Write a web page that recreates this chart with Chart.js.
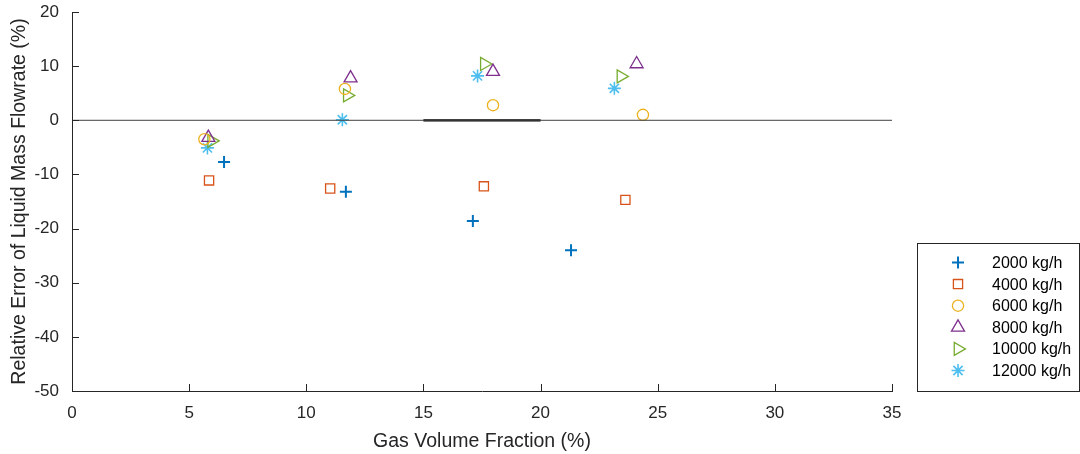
<!DOCTYPE html>
<html>
<head>
<meta charset="utf-8">
<script src="https://cdn.jsdelivr.net/npm/chart.js@4.4.1/dist/chart.umd.min.js"></script>
<style>
  html, body { margin: 0; padding: 0; background: #fff; }
  #wrap { width: 1080px; height: 454px; }
</style>
</head>
<body>
<div id="wrap"><canvas id="c" width="1080" height="454"></canvas></div>
<script>
// series: gas volume fraction (%) vs relative error (%)
const seriesNames = ['2000 kg/h', '4000 kg/h', '6000 kg/h', '8000 kg/h', '10000 kg/h', '12000 kg/h'];
const gvf2000 = [6.49, 11.69, 17.11, 21.30];
const err2000 = [-7.7, -13.2, -18.6, -24.0];
const gvf4000 = [5.85, 11.02, 17.58, 23.62];
const err4000 = [-11.1, -12.6, -12.2, -14.7];
const gvf6000 = [5.65, 11.65, 17.97, 24.37];
const err6000 = [-3.5, 5.8, 2.8, 1.0];
const gvf8000 = [5.82, 11.89, 17.97, 24.10];
const err8000 = [-3.2, 7.8, 9.0, 10.4];
const gvf10000 = [5.96, 11.75, 17.60, 23.43];
const err10000 = [-3.8, 4.6, 10.4, 8.1];
const gvf12000 = [5.78, 11.54, 17.31, 23.15];
const err12000 = [-5.1, 0.1, 8.2, 5.9];

const xTicks = [0, 5, 10, 15, 20, 25, 30, 35];
const yTicks = [-50, -40, -30, -20, -10, 0, 10, 20];
const zeroLineX = [0, 35];
const zeroBandX = [15, 20];

const axisColour = '#262626';
const fontFamily = '"Liberation Sans", Arial, Helvetica, sans-serif';

function pts(xs, ys) {
  return xs.map((x, i) => ({ x: x, y: ys[i] }));
}

function markerSet(label, xs, ys, colour, style, radius, width, rotation) {
  return {
    label: label,
    data: pts(xs, ys),
    pointStyle: style,
    pointRadius: radius,
    pointHoverRadius: radius,
    pointBorderWidth: width,
    pointRotation: rotation || 0,
    borderColor: colour,
    backgroundColor: 'rgba(0,0,0,0)',
    showLine: false,
    inLegend: true,
  };
}

const datasets = [
  {
    label: 'zero',
    data: zeroLineX.map(x => ({ x: x, y: 0 })),
    showLine: true, pointRadius: 0, borderColor: '#404040', borderWidth: 1,
  },
  {
    label: 'band',
    data: zeroBandX.map(x => ({ x: x, y: 0 })),
    showLine: true, pointRadius: 0, borderColor: '#000000', borderWidth: 2.2,
  },
  markerSet(seriesNames[0], gvf2000, err2000, '#0072BD', 'cross', 6, 2),
  markerSet(seriesNames[1], gvf4000, err4000, '#D95319', 'rect', 6.5, 1.3),
  markerSet(seriesNames[2], gvf6000, err6000, '#EDB120', 'circle', 5.6, 1.3),
  markerSet(seriesNames[3], gvf8000, err8000, '#7E2F8E', 'triangle', 7.5, 1.3),
  markerSet(seriesNames[4], gvf10000, err10000, '#77AC30', 'triangle', 7.5, 1.3, 90),
  markerSet(seriesNames[5], gvf12000, err12000, '#4DBEEE', 'star', 6.5, 1.6),
];

// MATLAB style ticks pointing into the axes
const innerTicks = {
  id: 'innerTicks',
  afterDatasetsDraw(chart) {
    const ctx = chart.ctx;
    const xs = chart.scales.x, ys = chart.scales.y;
    ctx.save();
    ctx.strokeStyle = axisColour;
    ctx.lineWidth = 1;
    ctx.beginPath();
    xTicks.forEach(v => {
      const px = Math.round(xs.getPixelForValue(v)) + 0.5;
      ctx.moveTo(px, ys.bottom);
      ctx.lineTo(px, ys.bottom - 7);
    });
    yTicks.forEach(v => {
      const py = Math.round(ys.getPixelForValue(v)) + 0.5;
      ctx.moveTo(xs.left, py);
      ctx.lineTo(xs.left + 7, py);
    });
    ctx.stroke();
    ctx.restore();
  }
};

// legend box at the lower right, outside the axes
const boxLegend = {
  id: 'boxLegend',
  afterDraw(chart) {
    const ctx = chart.ctx;
    const left = 917.5, top = 243.5, w = 162, h = 148;
    ctx.save();
    ctx.fillStyle = '#fff';
    ctx.fillRect(left, top, w, h);
    ctx.strokeStyle = axisColour;
    ctx.lineWidth = 1;
    ctx.strokeRect(left, top, w, h);
    ctx.font = '16px ' + fontFamily;
    ctx.textBaseline = 'middle';
    ctx.textAlign = 'left';
    let row = 0;
    chart.data.datasets.forEach(ds => {
      if (!ds.inLegend) return;
      const y = top + 19 + row * 21.6;
      ctx.strokeStyle = ds.borderColor;
      ctx.fillStyle = 'rgba(0,0,0,0)';
      ctx.lineWidth = ds.pointBorderWidth;
      Chart.helpers.drawPoint(ctx, {
        pointStyle: ds.pointStyle,
        radius: ds.pointRadius,
        rotation: ds.pointRotation,
        borderWidth: ds.pointBorderWidth,
      }, 958, y);
      ctx.fillStyle = '#000';
      ctx.fillText(ds.label, 992, y + 1);
      row++;
    });
    ctx.restore();
  }
};

function noPad(s) {
  s.paddingTop = 0; s.paddingBottom = 0; s.paddingLeft = 0; s.paddingRight = 0;
}

new Chart(document.getElementById('c'), {
  type: 'scatter',
  data: { datasets: datasets },
  options: {
    responsive: false,
    animation: false,
    layout: { padding: { top: 12, right: 188, left: 0, bottom: 0 } },
    plugins: {
      legend: { display: false },
      tooltip: { enabled: false },
    },
    scales: {
      x: {
        type: 'linear',
        min: 0, max: 35,
        afterFit: s => { s.height = 63; noPad(s); },
        afterBuildTicks: s => { s.ticks = xTicks.map(v => ({ value: v })); },
        grid: { display: false, drawTicks: false },
        border: { display: true, color: axisColour, width: 1 },
        ticks: { color: axisColour, padding: 12, maxRotation: 0, font: { family: fontFamily, size: 17 } },
        title: {
          display: true, text: 'Gas Volume Fraction (%)', color: axisColour,
          font: { family: fontFamily, size: 19.5 }, padding: { top: 0, bottom: 1 },
        },
      },
      y: {
        type: 'linear',
        min: -50, max: 20,
        afterFit: s => { s.width = 72; noPad(s); },
        afterBuildTicks: s => { s.ticks = yTicks.map(v => ({ value: v })); },
        grid: { display: false, drawTicks: false },
        border: { display: true, color: axisColour, width: 1 },
        ticks: { color: axisColour, padding: 13, font: { family: fontFamily, size: 17 } },
        title: {
          display: true, text: 'Relative Error of Liquid Mass Flowrate (%)', color: axisColour,
          font: { family: fontFamily, size: 19.5 }, padding: { top: 8, bottom: 0 },
        },
      },
    },
  },
  plugins: [innerTicks, boxLegend],
});
</script>
</body>
</html>
